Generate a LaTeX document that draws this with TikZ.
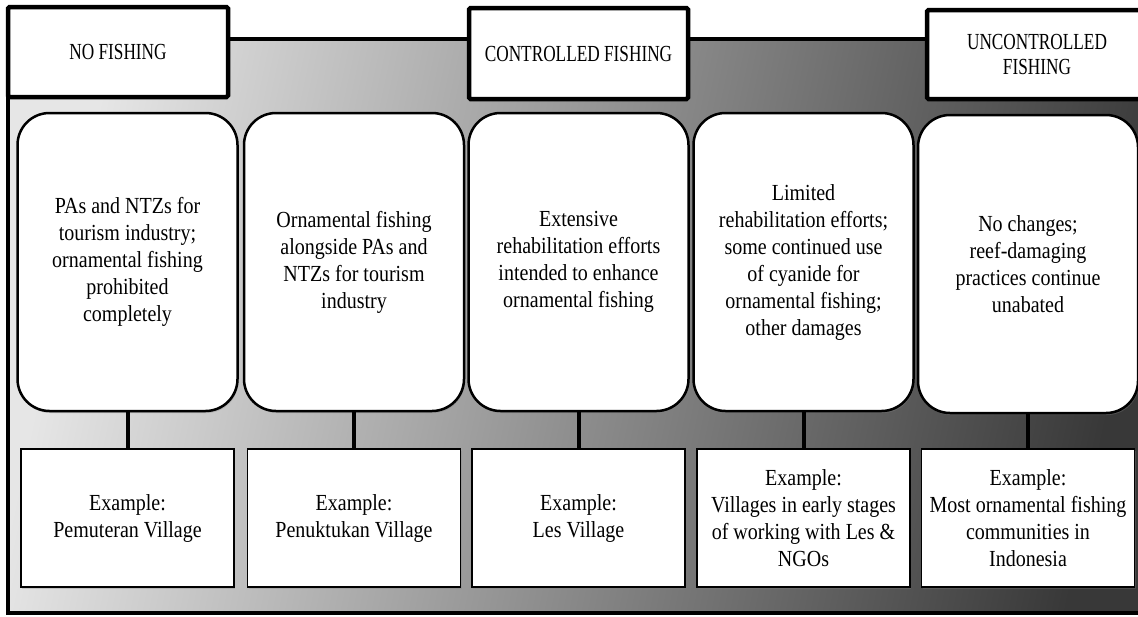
\documentclass[tikz,border=0pt]{standalone}
\usepackage{fontspec}
\setmainfont{Liberation Serif}[FakeStretch=0.87]
\newfontfamily\capfont{Liberation Serif}[FakeStretch=0.75]
\usetikzlibrary{shadows}
\definecolor{bglight}{HTML}{E6E6E6}
\definecolor{bgmid}{HTML}{A4A4A4}
\definecolor{bgdark}{HTML}{383838}
\begin{document}
\begin{tikzpicture}[x=1pt,y=-1pt,
  txt/.style={align=center, text=black, inner sep=0pt,
    font=\fontsize{23}{27}\selectfont},
  headbox/.style={draw=black, line width=4.5pt, fill=white, rounded corners=1.5pt,
    minimum width=220pt, minimum height=90pt, inner sep=0pt, align=center,
    font=\capfont\fontsize{23}{26}\selectfont},
  stage/.style={txt, draw=black, line width=2.5pt, fill=white, rounded corners=32pt,
    minimum width=220pt, minimum height=298pt,
    drop shadow={shadow xshift=1pt, shadow yshift=-2pt, opacity=.35}},
  example/.style={txt, draw=black, line width=1.4pt, fill=white,
    minimum width=213pt, minimum height=138pt,
    drop shadow={shadow xshift=1pt, shadow yshift=-1.5pt, opacity=.3}},
  link/.style={draw=black, line width=4pt},
  framebox/.style={draw=black, line width=4.5pt}
]
\useasboundingbox (0,0) rectangle (1138,616);
\clip (0,0) rectangle (1138,616);

% shaded background panel
\shade[top color=bglight, middle color=bgmid, bottom color=bgdark, shading angle=78]
  (8,39) rectangle (1170,613);
\draw[framebox] (8,39) rectangle (1170,613);

% category headers
\node[headbox] (nofish) at (118,52) {NO FISHING};
\node[headbox, minimum width=219pt, minimum height=91pt] (ctrl) at (578.5,53.5) {CONTROLLED FISHING};
\node[headbox, minimum width=220pt, minimum height=89pt] (unctrl) at (1037,54.5)
  {UNCONTROLLED\\[-1pt]FISHING};

% management scenarios
\node[stage] (r1) at (127.5,262) {PAs and NTZs for\\tourism industry;\\ornamental fishing\\prohibited\\completely};
\node[stage] (r2) at (354,262) {Ornamental fishing\\alongside PAs and\\NTZs for tourism\\industry};
\node[stage] (r3) at (578.5,262) {Extensive\\rehabilitation efforts\\intended to enhance\\ornamental fishing};
\node[stage] (r4) at (803.5,262) {Limited\\rehabilitation efforts;\\some continued use\\of cyanide for\\ornamental fishing;\\other damages};
\node[stage] (r5) at (1028,264) {No changes;\\reef-damaging\\practices continue\\unabated};

% example villages
\node[example] (e1) at (127.5,518) {Example:\\Pemuteran Village};
\node[example] (e2) at (354,518) {Example:\\Penuktukan Village};
\node[example] (e3) at (578.5,518) {Example:\\Les Village};
\node[example] (e4) at (803.5,518) {Example:\\Villages in early stages\\of working with Les \&\\NGOs};
\node[example] (e5) at (1028,518) {Example:\\Most ornamental fishing\\communities in\\Indonesia};

% connectors
\foreach \i in {1,...,5}{
  \draw[link] (r\i.south) -- (e\i.north);
}
\end{tikzpicture}
\end{document}
